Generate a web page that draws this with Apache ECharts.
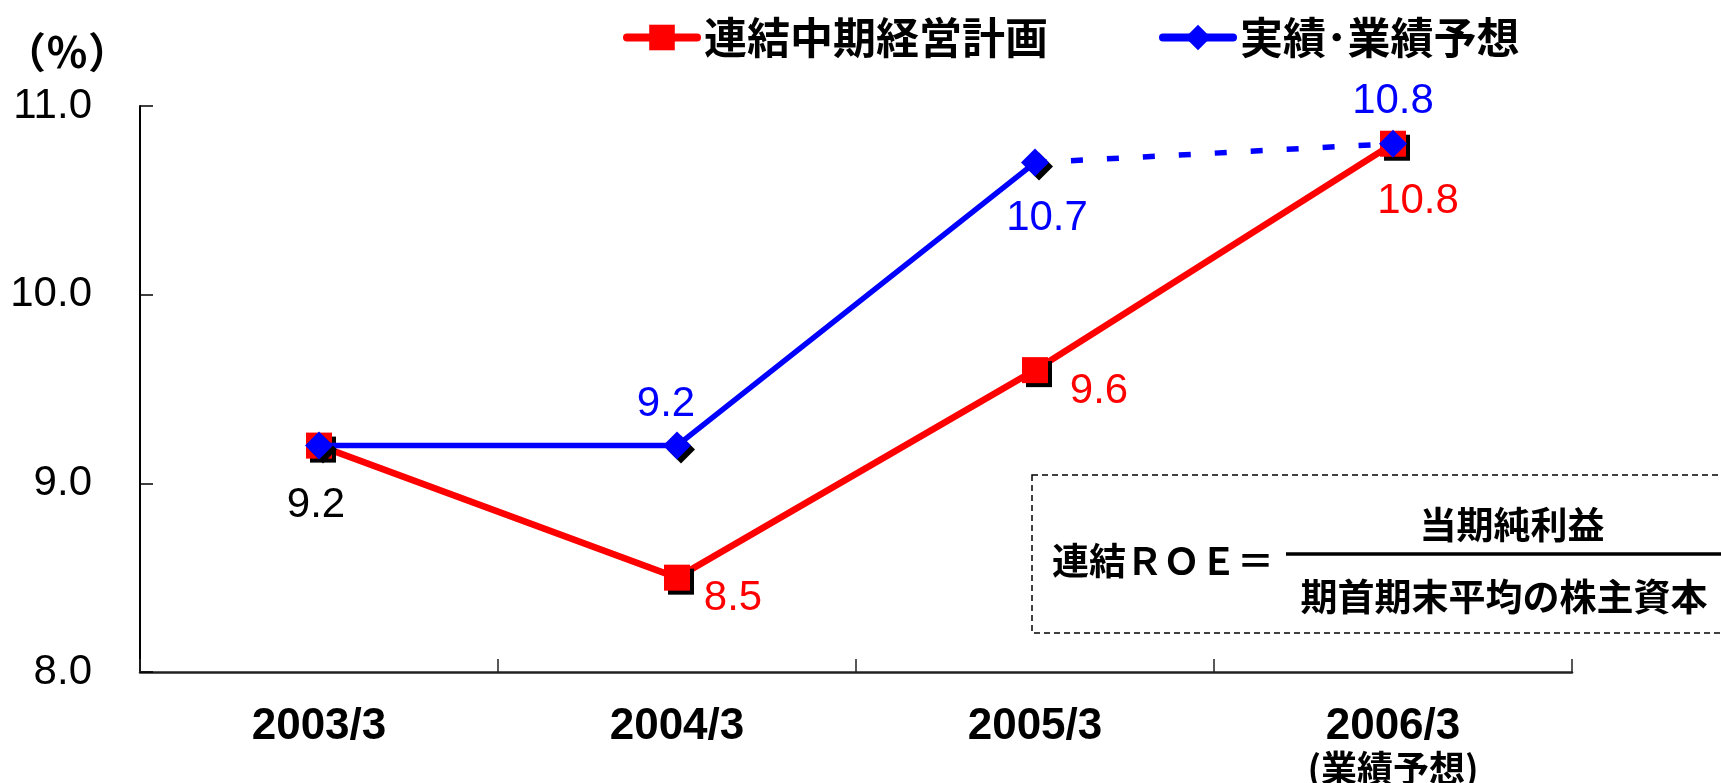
<!DOCTYPE html>
<html>
<head>
<meta charset="utf-8">
<script src="https://cdn.jsdelivr.net/npm/echarts@6/dist/echarts.min.js"></script>
<style>
  html, body { margin: 0; padding: 0; background: #fff; }
  #roeChart { width: 1721px; height: 783px; }
</style>
</head>
<body>
<div id="roeChart"></div>
<script>
// fiscal years on the x axis
var categories = ['2003/3', '2004/3', '2005/3', '2006/3'];
// 連結中期経営計画 (plan)
var planValues = [9.2, 8.5, 9.6, 10.8];
// 実績 (actual, solid part)
var actualValues = [9.2, 9.2, 10.7, null];
// 業績予想 (forecast, dashed part)
var forecastValues = [null, null, 10.7, 10.8];
var yTicks = [8.0, 9.0, 10.0, 11.0];

var CJK = '"Noto Sans CJK JP", "Noto Sans CJK SC", sans-serif';
var LATIN = '"Liberation Sans", Arial, sans-serif';

// label placement for each point: [offsetX, offsetY, color] (null = no label)
var planLabels = [[-3, 60, '#000'], [56, 21, '#ff0000'], [64, 21, '#ff0000'], [25, 58, '#ff0000']];
var actualLabels = [null, [-11, -41, '#0000ff'], [12, 56, '#0000ff'], null];
var forecastLabels = [null, null, null, [0, -42, '#0000ff']];

function buildData(values, labels, noSymbolIdx) {
    return values.map(function (v, i) {
        if (v == null) return '-';
        var item = { value: v };
        var lb = labels[i];
        if (lb) {
            item.label = {
                show: true,
                position: 'inside',
                offset: [lb[0], lb[1]],
                color: lb[2],
                fontSize: 42,
                fontFamily: LATIN,
                formatter: function (p) { return p.value.toFixed(1); }
            };
        }
        if (noSymbolIdx && noSymbolIdx.indexOf(i) >= 0) item.symbol = 'none';
        return item;
    });
}

var markShadow = {
    shadowColor: '#000',
    shadowBlur: 0,
    shadowOffsetX: 4,
    shadowOffsetY: 4
};

var roeChart = echarts.init(document.getElementById('roeChart'));

var option = {
    animation: false,
    backgroundColor: '#fff',
    legend: {
        data: ['連結中期経営計画', '実績･業績予想'],
        left: 618,
        top: 11,
        itemWidth: 70,
        itemHeight: 32,
        itemGap: 111,
        lineStyle: { width: 8, cap: 'round' },
        textStyle: {
            fontSize: 43,
            fontWeight: 'bold',
            fontFamily: CJK,
            color: '#000',
            padding: [0, 0, 0, 2]
        }
    },
    grid: {
        left: 140,
        right: 149,
        top: 106,
        bottom: 111,
        containLabel: false,
        outerBoundsMode: 'none'
    },
    xAxis: {
        type: 'category',
        data: categories,
        boundaryGap: true,
        axisLine: { lineStyle: { color: '#222', width: 2.5 } },
        axisTick: { show: true, interval: 0, inside: true, length: 13, lineStyle: { color: '#222', width: 1.5 } },
        axisLabel: {
            interval: 0,
            margin: 33,
            color: '#000',
            fontSize: 44,
            fontWeight: 'bold',
            fontFamily: LATIN,
            lineHeight: 44,
            formatter: function (v, i) {
                if (i === categories.length - 1) return '{a|' + v + '}\n{b|(業績予想)}';
                return '{a|' + v + '}';
            },
            rich: {
                a: { fontSize: 44, fontWeight: 'bold', fontFamily: LATIN, color: '#000', lineHeight: 44 },
                b: { fontSize: 36, fontWeight: 'bold', fontFamily: CJK, color: '#000', lineHeight: 38 }
            }
        }
    },
    yAxis: {
        type: 'value',
        min: yTicks[0],
        max: yTicks[yTicks.length - 1],
        interval: 1,
        axisLine: { show: true, lineStyle: { color: '#000', width: 2 } },
        axisTick: { show: true, inside: true, length: 13, lineStyle: { color: '#000', width: 1.5 } },
        splitLine: { show: false },
        axisLabel: {
            margin: 48,
            color: '#000',
            fontSize: 42,
            fontFamily: LATIN,
            formatter: function (v) { return v.toFixed(1); }
        }
    },
    graphic: [
        {
            type: 'text', x: 4, y: 52,
            style: { text: '（％）', font: 'bold 42px ' + CJK, fill: '#000', verticalAlign: 'middle' }
        },
        {
            type: 'rect', z: 1,
            shape: { x: 1032, y: 475, width: 700, height: 158 },
            style: { fill: 'none', stroke: '#000', lineWidth: 1.5, lineDash: [6, 4] }
        },
        {
            type: 'text', x: 1052, y: 561,
            style: { text: '連結ＲＯＥ＝', font: 'bold 37px ' + CJK, fill: '#000', verticalAlign: 'middle' }
        },
        {
            type: 'line',
            shape: { x1: 1286, y1: 554, x2: 1721, y2: 554 },
            style: { stroke: '#000', lineWidth: 3.5 }
        },
        {
            type: 'text', x: 1512, y: 525,
            style: { text: '当期純利益', font: 'bold 37px ' + CJK, fill: '#000', align: 'center', verticalAlign: 'middle' }
        },
        {
            type: 'text', x: 1504, y: 597,
            style: { text: '期首期末平均の株主資本', font: 'bold 37px ' + CJK, fill: '#000', align: 'center', verticalAlign: 'middle' }
        }
    ],
    series: [
        {
            name: '連結中期経営計画',
            type: 'line',
            data: buildData(planValues, planLabels),
            symbol: 'rect',
            symbolSize: 26,
            lineStyle: { color: '#ff0000', width: 6.5 },
            itemStyle: Object.assign({ color: '#ff0000' }, markShadow),
            z: 2
        },
        {
            name: '実績･業績予想',
            type: 'line',
            data: buildData(actualValues, actualLabels),
            symbol: 'diamond',
            symbolSize: 28,
            lineStyle: { color: '#0000ff', width: 5.5 },
            itemStyle: Object.assign({ color: '#0000ff' }, markShadow),
            z: 3
        },
        {
            name: '実績･業績予想',
            type: 'line',
            data: buildData(forecastValues, forecastLabels, [2]),
            symbol: 'diamond',
            symbolSize: 28,
            lineStyle: { color: '#0000ff', width: 5.5, type: [12, 24] },
            itemStyle: { color: '#0000ff' },
            z: 4
        }
    ]
};

roeChart.setOption(option);
</script>
</body>
</html>
